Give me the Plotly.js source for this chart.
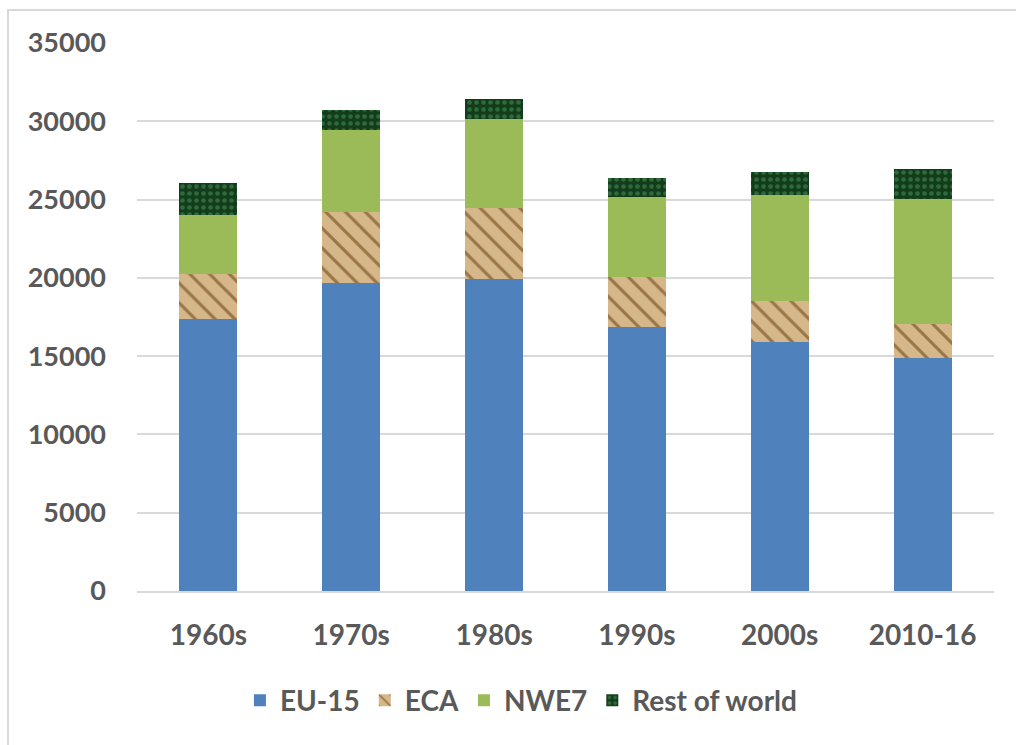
<!DOCTYPE html>
<html>
<head>
<meta charset="utf-8">
<script src="https://cdn.plot.ly/plotly-3.0.1.min.js"></script>
<style>
  html, body { margin: 0; padding: 0; background: #ffffff; }
  #wrap { position: relative; width: 1016px; height: 745px; }
  #chart { width: 1016px; height: 745px; }
  #frame { position: absolute; left: 7px; top: 9px; right: -5px; bottom: -5px;
           border-left: 2px solid #d9d9d9; border-top: 2px solid #d9d9d9; pointer-events: none; }
</style>
</head>
<body>
<div id="wrap">
  <div id="chart"></div>
  <div id="frame"></div>
</div>
<script>
const categories = ["1960s", "1970s", "1980s", "1990s", "2000s", "2010-16"];
const eu15 = [17390, 19640, 19920, 16880, 15920, 14880];
const eca = [2850, 4580, 4520, 3190, 2600, 2170];
const nwe7 = [3770, 5200, 5700, 5090, 6790, 7980];
const restOfWorld = [2060, 1320, 1280, 1210, 1450, 1920];
const yTicks = [0, 5000, 10000, 15000, 20000, 25000, 30000, 35000];

const txt = "#595959";
const fontFam = "Lato, 'Open Sans', sans-serif";

const traces = [
  { name: "EU-15", x: categories, y: eu15, type: "bar",
    marker: { color: "#4F81BD", line: { width: 0 } } },
  { name: "ECA", x: categories, y: eca, type: "bar",
    marker: { color: "#D2B084",
      pattern: { shape: "\\", bgcolor: "#D6B78A", fgcolor: "#9A7646", size: 14, solidity: 0.22, fillmode: "replace" },
      line: { width: 0 } } },
  { name: "NWE7", x: categories, y: nwe7, type: "bar",
    marker: { color: "#9BBB59", line: { width: 0 } } },
  { name: "Rest of world", x: categories, y: restOfWorld, type: "bar",
    marker: { color: "#17451F",
      pattern: { shape: ".", bgcolor: "#123C1B", fgcolor: "#2F6A3A", size: 7, solidity: 0.35, fillmode: "replace" },
      line: { width: 0 } } }
];

const layout = {
  barmode: "stack",
  bargap: 0.595,
  width: 1016, height: 745,
  margin: { l: 137, r: 22, t: 43, b: 154 },
  paper_bgcolor: "rgba(0,0,0,0)",
  plot_bgcolor: "#ffffff",
  font: { family: fontFam, color: txt, size: 27 },
  showlegend: true,
  legend: {
    orientation: "h", x: 0.448, xanchor: "center", y: -0.2, yanchor: "middle",
    font: { family: fontFam, size: 28, color: txt, weight: "bold" },
    traceorder: "normal", itemclick: false
  },
  xaxis: {
    type: "category",
    tickfont: { family: fontFam, size: 28, color: txt, weight: "bold" },
    showgrid: false, zeroline: false,
    showline: true, linecolor: "#d9d9d9", linewidth: 2,
    ticks: "", ticklabelstandoff: 18, fixedrange: true
  },
  yaxis: {
    range: [0, 35000],
    tickvals: yTicks,
    ticktext: yTicks.map(String),
    tickfont: { family: fontFam, size: 27, color: txt, weight: "bold" },
    showgrid: true, gridcolor: "#d9d9d9", gridwidth: 2,
    zeroline: false, showline: false, ticks: "",
    ticklabelstandoff: 30, fixedrange: true
  }
};

Plotly.newPlot("chart", traces, layout, { displayModeBar: false, staticPlot: true });
</script>
</body>
</html>
